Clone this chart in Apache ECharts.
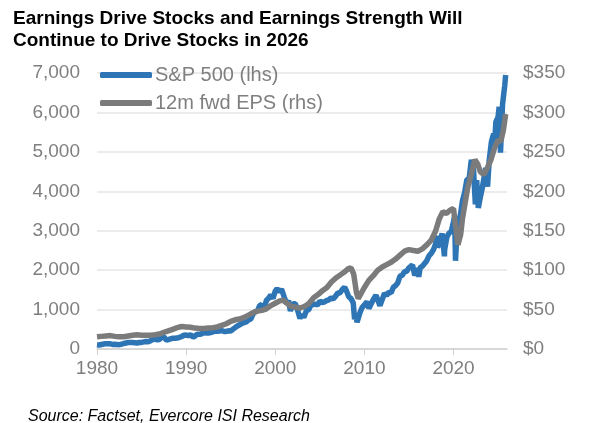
<!DOCTYPE html>
<html>
<head>
<meta charset="utf-8">
<script src="https://cdn.jsdelivr.net/npm/echarts@6/dist/echarts.min.js"></script>
<style>
  html, body { margin: 0; padding: 0; background: #fff; }
  #main { width: 605px; height: 423px; }
</style>
</head>
<body>
<div id="main"></div>
<script>
// year (decimal), S&P 500 level
var spx = [
  [1980.0,108],[1980.25,102],[1980.5,114],[1980.75,125],[1981.0,136],[1981.25,131],[1981.5,130],[1981.75,116],
  [1982.0,122],[1982.25,112],[1982.5,110],[1982.75,120],[1983.0,140],[1983.25,153],[1983.5,168],[1983.75,166],
  [1984.0,165],[1984.25,159],[1984.5,153],[1984.75,166],[1985.0,167],[1985.25,181],[1985.5,191],[1985.75,182],
  [1986.0,211],[1986.25,238],[1986.5,250],[1986.75,231],[1987.0,242],[1987.25,291],[1987.5,304],[1987.65,330],
  [1987.8,225],[1988.0,247],[1988.25,258],[1988.5,273],[1988.75,271],[1989.0,277],[1989.25,294],[1989.5,317],
  [1989.75,349],[1990.0,353],[1990.25,339],[1990.5,358],[1990.8,300],[1991.0,330],[1991.25,375],[1991.5,371],
  [1991.75,387],[1992.0,417],[1992.25,403],[1992.5,408],[1992.75,417],[1993.0,435],[1993.25,451],[1993.5,450],
  [1993.75,458],[1994.0,466],[1994.25,445],[1994.5,444],[1994.75,462],[1995.0,459],[1995.25,500],[1995.5,544],
  [1995.75,584],[1996.0,615],[1996.25,645],[1996.5,670],[1996.75,687],[1997.0,740],[1997.25,757],[1997.5,885],
  [1997.75,947],[1998.0,970],[1998.25,1101],[1998.5,1133],[1998.7,960],[1998.75,1017],[1999.0,1229],[1999.25,1286],
  [1999.5,1372],[1999.75,1282],[2000.0,1469],[2000.2,1527],[2000.5,1454],[2000.7,1520],[2001.0,1320],[2001.25,1160],
  [2001.5,1224],[2001.7,966],[2002.0,1148],[2002.25,1147],[2002.5,989],[2002.78,777],[2003.0,879],[2003.2,800],
  [2003.5,974],[2003.75,995],[2004.0,1112],[2004.25,1126],[2004.5,1140],[2004.75,1114],[2005.0,1212],[2005.25,1180],
  [2005.5,1191],[2005.75,1228],[2006.0,1248],[2006.25,1294],[2006.5,1270],[2006.75,1335],[2007.0,1418],[2007.25,1420],
  [2007.5,1503],[2007.78,1565],[2008.0,1468],[2008.25,1322],[2008.5,1280],[2008.75,1166],[2008.9,752],[2009.0,903],
  [2009.18,677],[2009.5,919],[2009.75,1057],[2010.0,1115],[2010.3,1200],[2010.5,1030],[2010.75,1141],[2011.0,1257],
  [2011.3,1363],[2011.5,1320],[2011.75,1099],[2012.0,1257],[2012.25,1408],[2012.5,1362],[2012.75,1440],[2013.0,1426],
  [2013.25,1569],[2013.5,1606],[2013.75,1681],[2014.0,1848],[2014.25,1872],[2014.5,1960],[2014.75,1972],[2015.0,2058],
  [2015.4,2130],[2015.65,1867],[2015.75,1920],[2016.0,2044],[2016.1,1829],[2016.25,2060],[2016.5,2099],[2016.75,2168],
  [2017.0,2239],[2017.25,2362],[2017.5,2423],[2017.75,2519],[2018.0,2673],[2018.1,2872],[2018.2,2581],[2018.5,2718],
  [2018.72,2930],[2018.98,2351],[2019.0,2507],[2019.25,2834],[2019.5,2942],[2019.75,2977],[2020.0,3231],[2020.13,3386],
  [2020.22,2237],[2020.4,3000],[2020.5,3100],[2020.75,3363],[2021.0,3756],[2021.25,3973],[2021.5,4298],[2021.75,4308],
  [2022.0,4796],[2022.25,4530],[2022.45,3667],[2022.6,4280],[2022.78,3577],[2023.0,3840],[2023.25,4109],[2023.5,4450],
  [2023.6,4590],[2023.82,4117],[2024.0,4770],[2024.25,5254],[2024.5,5460],[2024.6,5186],[2024.75,5762],[2025.0,5882],
  [2025.12,6144],[2025.27,4982],[2025.5,6205],[2025.75,6688],[2025.85,6950]
];

// year (decimal), 12m forward EPS ($)
var eps = [
  [1980.0,15.5],[1980.5,16],[1981.0,16.5],[1981.5,17],[1982.0,16],[1982.5,15.5],[1983.0,15.5],[1983.5,16.5],
  [1984.0,17.5],[1984.5,18],[1985.0,17.5],[1985.5,17.5],[1986.0,17.5],[1986.5,18],[1987.0,19],[1987.5,21],
  [1988.0,23],[1988.5,25],[1989.0,27],[1989.5,28.5],[1990.0,28],[1990.5,27.5],[1991.0,26.5],[1991.5,26],
  [1992.0,26],[1992.5,26.5],[1993.0,27],[1993.5,28],[1994.0,30],[1994.5,32],[1995.0,35],[1995.5,37],
  [1996.0,38],[1996.5,40],[1997.0,43],[1997.5,46],[1998.0,48],[1998.5,49],[1999.0,51],[1999.5,55],
  [2000.0,58],[2000.5,61],[2000.9,62],[2001.3,58],[2001.8,54],[2002.3,53],[2002.8,52],[2003.3,54],
  [2003.8,58],[2004.3,65],[2004.8,69],[2005.3,74],[2005.8,78],[2006.3,85],[2006.8,90],[2007.3,94],
  [2007.8,98],[2008.2,102],[2008.5,103],[2008.8,95],[2009.1,72],[2009.3,64],[2009.6,70],[2010.0,78],
  [2010.5,87],[2011.0,93],[2011.5,100],[2012.0,104],[2012.5,107],[2013.0,110],[2013.5,114],[2014.0,119],
  [2014.5,124],[2015.0,126],[2015.5,125],[2016.0,124],[2016.5,127],[2017.0,132],[2017.5,138],[2018.0,150],
  [2018.4,165],[2018.8,174],[2019.2,172],[2019.6,176],[2020.0,178],[2020.3,150],[2020.5,132],[2020.8,145],
  [2021.0,165],[2021.3,185],[2021.6,205],[2022.0,222],[2022.4,240],[2022.7,235],[2023.0,225],[2023.4,221],
  [2023.8,230],[2024.2,240],[2024.6,255],[2025.0,265],[2025.3,263],[2025.6,278],[2025.85,298]
];

var yearTicks = [1980, 1990, 2000, 2010, 2020];

var chart = echarts.init(document.getElementById('main'));
var axisFont = { color: '#7f7f7f', fontSize: 19, fontFamily: 'Liberation Sans, Arial, sans-serif' };

option = {
  backgroundColor: '#fff',
  animation: false,
  title: [{
    text: 'Earnings Drive Stocks and Earnings Strength Will\nContinue to Drive Stocks in 2026',
    left: 8,
    top: 3,
    textStyle: { color: '#000', fontSize: 19, fontWeight: 'bold', lineHeight: 22, fontFamily: 'Liberation Sans, Arial, sans-serif' }
  }, {
    text: 'Source: Factset, Evercore ISI Research',
    left: 23,
    top: 404,
    textStyle: { color: '#000', fontSize: 16, fontWeight: 'normal', fontStyle: 'italic', fontFamily: 'Liberation Sans, Arial, sans-serif' }
  }],
  legend: {
    orient: 'vertical',
    left: 95,
    top: 60,
    itemWidth: 52,
    itemHeight: 6,
    itemGap: 8,
    icon: 'roundRect',
    textStyle: { color: '#7f7f7f', fontSize: 20, fontFamily: 'Liberation Sans, Arial, sans-serif', padding: [0, 0, 0, -2] },
    data: ['S&P 500 (lhs)', '12m fwd EPS (rhs)']
  },
  grid: { left: 97, right: 98, top: 73, bottom: 74 },
  xAxis: {
    type: 'value',
    min: 1980,
    max: 2026,
    interval: 10,
    splitLine: { show: false },
    axisLine: { lineStyle: { color: '#d0d0d0', width: 1.5 } },
    axisTick: { show: true, length: 6, lineStyle: { color: '#d0d0d0' }, customValues: yearTicks },
    axisLabel: Object.assign({
      margin: 10,
      customValues: yearTicks,
      formatter: function (v) { return String(v); }
    }, axisFont)
  },
  yAxis: [{
    type: 'value',
    min: 0,
    max: 7000,
    interval: 1000,
    axisLine: { show: false },
    axisTick: { show: false },
    splitLine: { lineStyle: { color: '#e6e6e6', width: 1.5 } },
    axisLabel: Object.assign({
      margin: 17,
      formatter: function (v) { return v.toLocaleString('en-US'); }
    }, axisFont)
  }, {
    type: 'value',
    min: 0,
    max: 350,
    interval: 50,
    position: 'right',
    axisLine: { show: false },
    axisTick: { show: false },
    splitLine: { show: false },
    axisLabel: Object.assign({
      margin: 16,
      formatter: function (v) { return '$' + v; }
    }, axisFont)
  }],
  series: [{
    name: 'S&P 500 (lhs)',
    type: 'line',
    yAxisIndex: 0,
    showSymbol: false,
    data: spx,
    itemStyle: { color: '#2e75b6' },
    lineStyle: { color: '#2e75b6', width: 5.5 }
  }, {
    name: '12m fwd EPS (rhs)',
    type: 'line',
    yAxisIndex: 1,
    showSymbol: false,
    data: eps,
    itemStyle: { color: '#7b7b7b' },
    lineStyle: { color: '#7b7b7b', width: 5.5 }
  }]
};
chart.setOption(option);
</script>
</body>
</html>
